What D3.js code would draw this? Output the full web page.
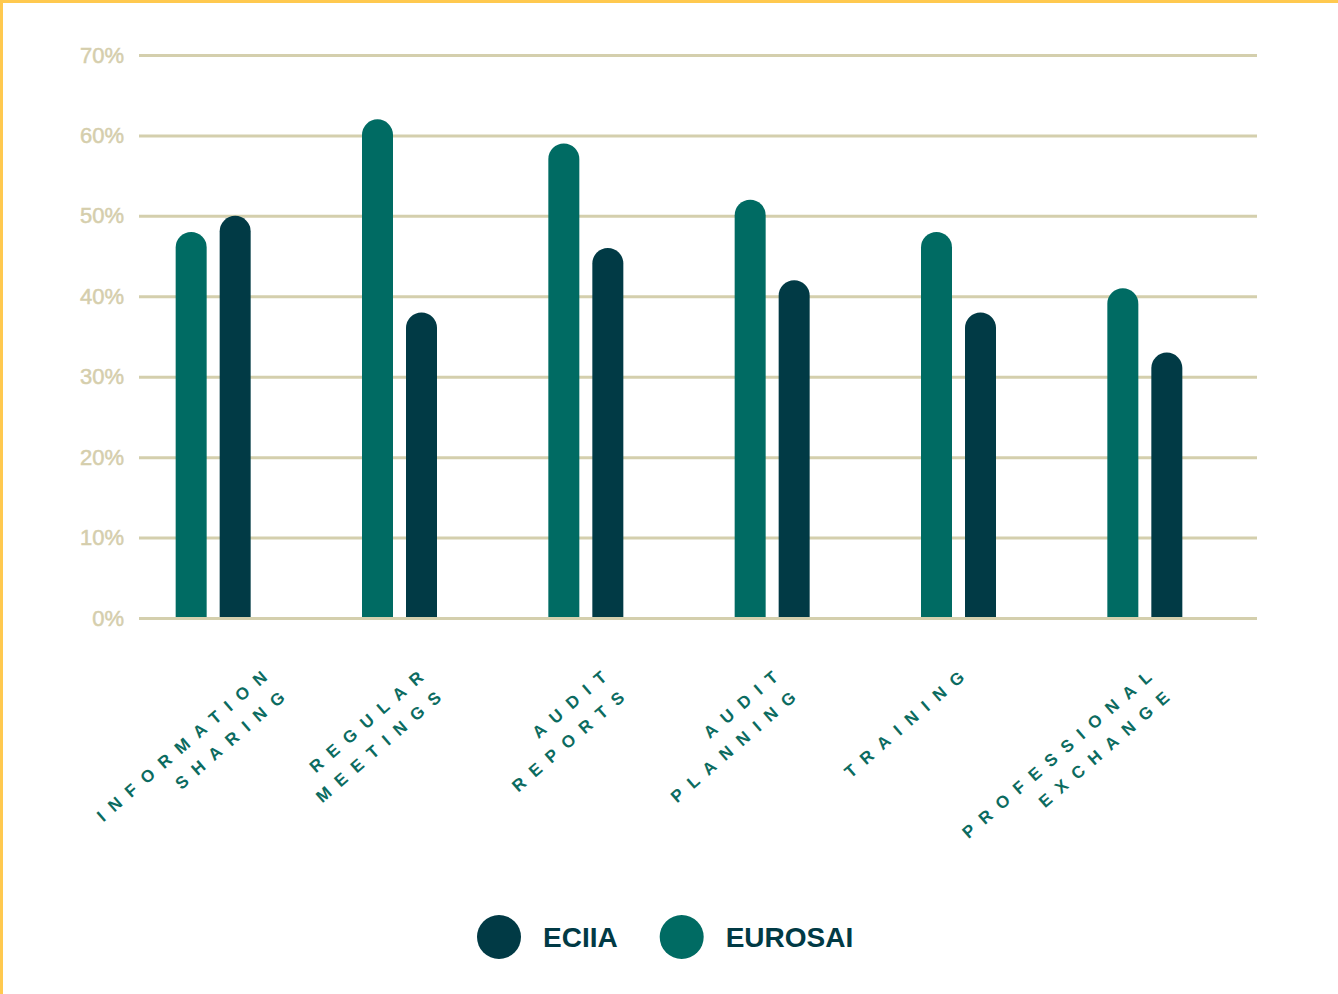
<!DOCTYPE html>
<html>
<head>
<meta charset="utf-8">
<script src="https://cdn.jsdelivr.net/npm/d3@7"></script>
<style>
  body { margin: 0; background: #fff; }
  svg { display: block; }
</style>
</head>
<body>
<svg width="1338" height="994"></svg>
<script>
// Data
const categories = ["Information Sharing", "Regular Meetings", "Audit Reports", "Audit Planning", "Training", "Professional Exchange"];
const labelLines = [["INFORMATION", "SHARING"], ["REGULAR", "MEETINGS"], ["AUDIT", "REPORTS"], ["AUDIT", "PLANNING"], ["TRAINING"], ["PROFESSIONAL", "EXCHANGE"]];
const eurosai = [48, 62, 59, 52, 48, 41];
const eciia = [50, 38, 46, 42, 38, 33];
const yTicks = [0, 10, 20, 30, 40, 50, 60, 70];
const legendSeries = ["ECIIA", "EUROSAI"];

const colors = { EUROSAI: "#006b63", ECIIA: "#013a45" };

// The svg
const svg = d3.select("svg"),
    width = +svg.attr("width"),
    height = +svg.attr("height");

// yellow frame, top and left only
svg.append("rect").attr("x", 0).attr("y", 0).attr("width", width).attr("height", 3).attr("fill", "#ffc94f");
svg.append("rect").attr("x", 0).attr("y", 0).attr("width", 3).attr("height", height).attr("fill", "#ffc94f");

const gridLeft = 139, gridRight = 1257;

// Scales
const x = d3.scaleBand()
    .domain(categories)
    .range([120, 1238]);

const inner = d3.scaleBand()
    .domain(["EUROSAI", "ECIIA"])
    .range([-37.5, 37.5])
    .paddingInner(13 / 44);

const y = d3.scaleLinear()
    .domain([0, 70])
    .range([618, 55]);

// Grid + y labels
const yAxis = d3.axisLeft(y)
    .tickValues(yTicks)
    .tickFormat(d => d + "%")
    .tickSizeInner(-(gridRight - gridLeft))
    .tickSizeOuter(0)
    .tickPadding(15);

const axisG = svg.append("g")
    .attr("transform", `translate(${gridLeft},0)`)
    .call(yAxis);
axisG.select(".domain").remove();
axisG.selectAll(".tick line")
    .attr("stroke", "#d4cfad")
    .attr("stroke-width", 3);
axisG.selectAll(".tick text")
    .attr("fill", "#d5ceac")
    .attr("stroke", "#d5ceac")
    .attr("stroke-width", 0.5)
    .style("font-family", "'Liberation Sans', Arial, sans-serif")
    .style("font-size", "22px")
    .style("font-weight", "normal");

// bars with rounded tops
function barPath(x0, w, yTop, yBottom) {
    const r = w / 2;
    return `M${x0},${yBottom} L${x0},${yTop + r} A${r},${r} 0 0 1 ${x0 + w},${yTop + r} L${x0 + w},${yBottom} Z`;
}

const rows = categories.map((c, i) => ({ cat: c, EUROSAI: eurosai[i], ECIIA: eciia[i] }));

const groups = svg.append("g")
    .selectAll("g")
    .data(rows)
    .join("g")
    .attr("transform", d => `translate(${x(d.cat) + x.bandwidth() / 2},0)`);

groups.selectAll("path")
    .data(d => ["EUROSAI", "ECIIA"].map(k => ({ key: k, value: d[k] })))
    .join("path")
    .attr("fill", d => colors[d.key])
    .attr("d", d => barPath(inner(d.key), inner.bandwidth(), y(d.value), y(0) - 1));

// category labels, rotated, letter spaced
const labelNudge = [48, 18, 15, 0, 0, 1]; // hand placement in the original
const letterSp = 10;
const labels = svg.append("g")
    .selectAll("g")
    .data(rows)
    .join("g")
    .attr("transform", (d, i) => `translate(${x(d.cat) + x.bandwidth() / 2 + labelNudge[i] + 7},679) rotate(-41)`);

labels.each(function (d, i) {
    d3.select(this).selectAll("text")
        .data(labelLines[i])
        .join("text")
        .attr("x", letterSp)
        .attr("y", (t, j) => j * 27)
        .attr("text-anchor", "end")
        .attr("fill", "#0b6b60")
        .style("font-family", "'Liberation Sans', Arial, sans-serif")
        .style("font-size", "17px")
        .style("font-weight", "bold")
        .style("letter-spacing", letterSp + "px")
        .text(t => t);
});

// Legend
const legend = svg.append("g").attr("transform", "translate(477,937)");
let lx = 0;
legendSeries.forEach(s => {
    const item = legend.append("g").attr("transform", `translate(${lx},0)`);
    item.append("circle")
        .attr("cx", 22)
        .attr("cy", 0)
        .attr("r", 22)
        .attr("fill", colors[s]);
    const t = item.append("text")
        .attr("x", 66)
        .attr("y", 10)
        .attr("fill", "#013a45")
        .style("font-family", "'Liberation Sans', Arial, sans-serif")
        .style("font-size", "28px")
        .style("font-weight", "bold")
        .text(s);
    lx += 66 + t.node().getComputedTextLength() + 42;
});
</script>
</body>
</html>
